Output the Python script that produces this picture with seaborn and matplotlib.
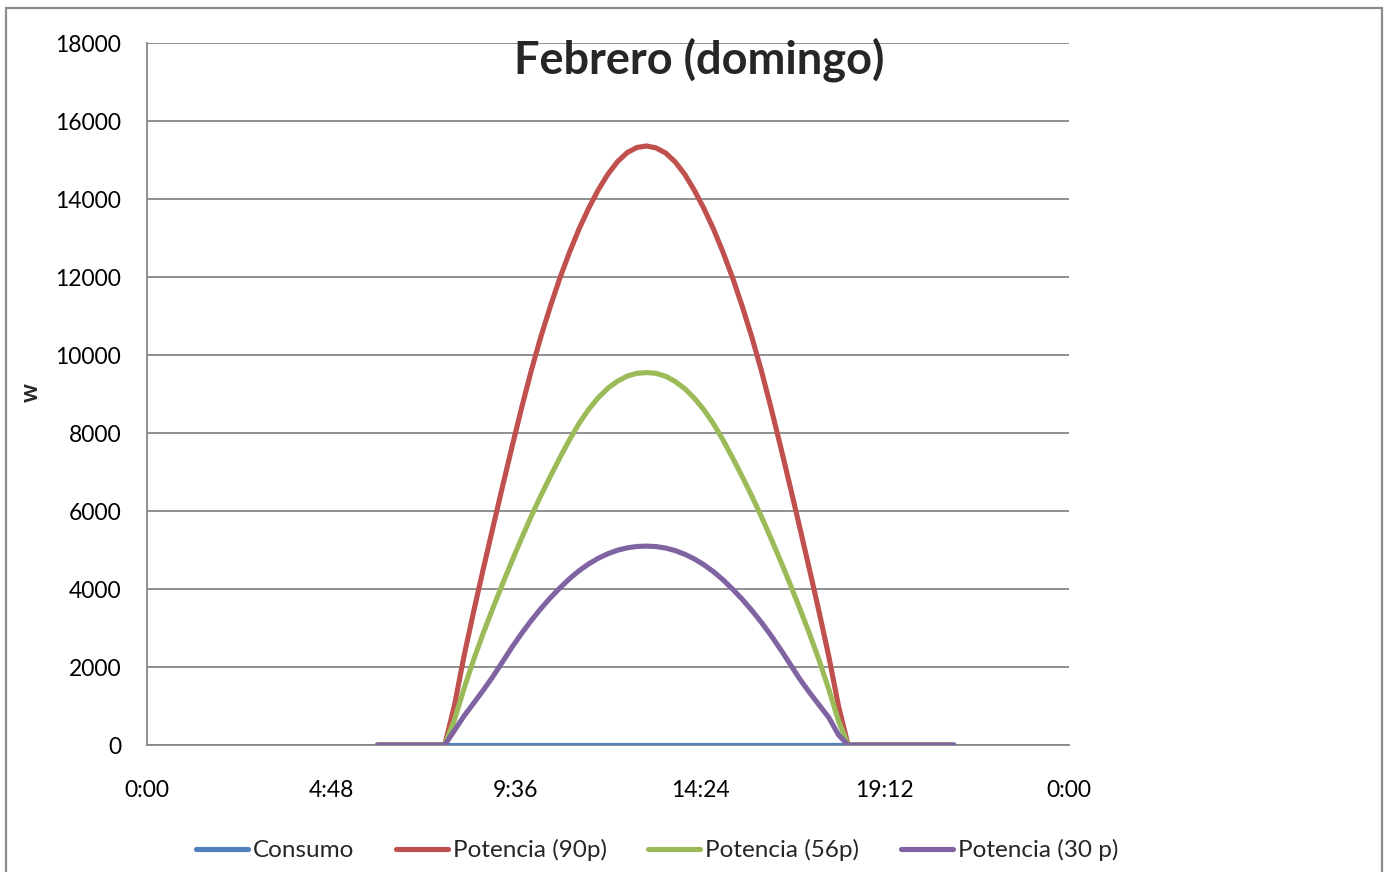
import matplotlib
matplotlib.use("Agg")
import matplotlib.pyplot as plt
import matplotlib.patches as mpatches
import seaborn as sns

# Data (W), Sunday in February, 15-min steps around daylight
horas = ["6:00", "7:00", "7:45",
         "8:00", "8:15", "8:30", "8:45", "9:00", "9:15", "9:30", "9:45",
         "10:00", "10:15", "10:30", "10:45", "11:00", "11:15", "11:30", "11:45",
         "12:00", "12:15", "12:30", "12:45", "13:00", "13:15", "13:30", "13:45",
         "14:00", "14:15", "14:30", "14:45", "15:00", "15:15", "15:30", "15:45",
         "16:00", "16:15", "16:30", "16:45", "17:00", "17:15", "17:30", "17:45",
         "18:00", "18:15", "19:00", "20:00", "21:00"]

consumo = [0, 0, 0,
           0, 0, 0, 0, 0, 0, 0, 0,
           0, 0, 0, 0, 0, 0, 0, 0,
           0, 0, 0, 0, 0, 0, 0, 0,
           0, 0, 0, 0, 0, 0, 0, 0,
           0, 0, 0, 0, 0, 0, 0, 0,
           0, 0, 0, 0, 0]
pot_90 = [0, 0, 0,
          1000, 2270, 3410, 4500, 5560, 6610, 7640, 8640,
          9590, 10460, 11250, 11980, 12640, 13240, 13770, 14240,
          14640, 14960, 15190, 15320, 15360, 15310, 15180, 14950,
          14630, 14220, 13750, 13220, 12620, 11960, 11230, 10440,
          9570, 8620, 7620, 6590, 5540, 4480, 3390, 2260,
          1000, 0, 0, 0, 0]
pot_56 = [0, 0, 0,
          640, 1440, 2180, 2860, 3500, 4120, 4720, 5300,
          5860, 6390, 6890, 7370, 7830, 8250, 8610, 8910,
          9150, 9330, 9460, 9530, 9550, 9530, 9455, 9320,
          9135, 8890, 8590, 8230, 7810, 7350, 6870, 6370,
          5840, 5280, 4700, 4100, 3480, 2840, 2160, 1420,
          620, 0, 0, 0, 0]
pot_30 = [0, 0, 0,
          370, 740, 1070, 1400, 1750, 2125, 2505, 2860,
          3190, 3495, 3775, 4030, 4265, 4470, 4645, 4790,
          4905, 4995, 5055, 5090, 5100, 5088, 5050, 4985,
          4890, 4770, 4620, 4440, 4230, 3990, 3730, 3445,
          3135, 2800, 2440, 2060, 1680, 1340, 1020, 700,
          260, 0, 0, 0, 0]

series = ["Consumo", "Potencia (90p)", "Potencia (56p)", "Potencia (30 p)"]
colores = ["#4F81BD", "#C0504D", "#9BBB59", "#8064A2"]

x_ticks_lbl = ["0:00", "4:48", "9:36", "14:24", "19:12", "0:00"]
y_ticks = [0, 2000, 4000, 6000, 8000, 10000, 12000, 14000, 16000, 18000]

t = [int(h.split(":")[0]) + int(h.split(":")[1]) / 60 for h in horas]

sns.set_style("white")
plt.rcParams["font.family"] = ["Lato", "DejaVu Sans"]

W, H = 1391, 872
fig = plt.figure(figsize=(W / 100, H / 100), dpi=100)
ax = fig.add_axes([147 / W, 1 - 745 / H, (1069 - 147) / W, (745 - 43) / H])

for nombre, vals, col in zip(series, [consumo, pot_90, pot_56, pot_30], colores):
    sns.lineplot(x=t, y=vals, color=col, lw=3.7, label=nombre, ax=ax,
                 zorder=3, solid_capstyle="round", solid_joinstyle="round",
                 legend=False)

gris = "#878787"
ax.set_xlim(0, 24)
ax.set_ylim(0, 18000)
ax.set_xticks([0, 4.8, 9.6, 14.4, 19.2, 24])
ax.set_xticklabels(x_ticks_lbl)
ax.set_yticks(y_ticks)
ax.yaxis.grid(True, color=gris, lw=1.3)
ax.set_axisbelow(True)
for s in ["top", "right"]:
    ax.spines[s].set_visible(False)
for s in ["left", "bottom"]:
    ax.spines[s].set_color(gris)
    ax.spines[s].set_linewidth(1.3)
ax.tick_params(axis="both", direction="out", length=5.5, width=1.3, color=gris,
               labelsize=16.5, labelcolor="black")
ax.tick_params(axis="y", pad=13)
ax.tick_params(axis="x", pad=19.5)
ax.set_xlabel("")
ax.set_ylabel("")

fig.text(699 / W, 1 - 60 / H, "Febrero (domingo)", ha="center", va="center",
         fontsize=32.5, fontweight="bold")
fig.text(30 / W, 1 - 393 / H, "w", rotation=90, ha="center", va="center",
         fontsize=17, fontweight="bold")

handles, labels = ax.get_legend_handles_labels()
fig.legend(handles, labels, loc="center", bbox_to_anchor=(657 / W, 1 - 850 / H),
           ncol=4, frameon=False, fontsize=17.5, handlelength=2.15,
           handletextpad=0.2, columnspacing=1.7)

fig.patches.append(mpatches.Rectangle((6.5 / W, -0.1), (1381.5 - 6.5) / W,
                                      1.1 - 8.5 / H, transform=fig.transFigure,
                                      fill=False, edgecolor="#8c8c8c", lw=1.6))

fig.savefig("out.png", dpi=100)
